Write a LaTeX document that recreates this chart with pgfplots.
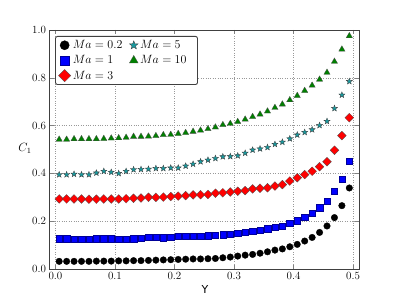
\documentclass[border=0pt]{standalone}
\usepackage{fontspec}
\usepackage{pgfplots}
\usepackage{pgfplotstable}
\pgfplotsset{compat=1.18}
\newfontfamily\dejavu{DejaVu Sans}
\definecolor{cteal}{rgb}{0.1,0.6,0.62}
\definecolor{cgreen}{rgb}{0,0.5,0}
\pgfdeclareplotmark{fstar}{%
  \pgfpathmoveto{\pgfpointpolar{90}{\pgfplotmarksize}}%
  \pgfpathlineto{\pgfpointpolar{126}{0.42\pgfplotmarksize}}%
  \pgfpathlineto{\pgfpointpolar{162}{\pgfplotmarksize}}%
  \pgfpathlineto{\pgfpointpolar{198}{0.42\pgfplotmarksize}}%
  \pgfpathlineto{\pgfpointpolar{234}{\pgfplotmarksize}}%
  \pgfpathlineto{\pgfpointpolar{270}{0.42\pgfplotmarksize}}%
  \pgfpathlineto{\pgfpointpolar{306}{\pgfplotmarksize}}%
  \pgfpathlineto{\pgfpointpolar{342}{0.42\pgfplotmarksize}}%
  \pgfpathlineto{\pgfpointpolar{18}{\pgfplotmarksize}}%
  \pgfpathlineto{\pgfpointpolar{54}{0.42\pgfplotmarksize}}%
  \pgfpathclose
  \pgfusepathqfillstroke}
\pgfplotstableread{
x a b c d e
0.00625 0.032 0.127 0.293 0.395 0.542
0.01875 0.032 0.127 0.293 0.395 0.542
0.03125 0.032 0.126 0.293 0.397 0.544
0.04375 0.032 0.126 0.293 0.395 0.544
0.05625 0.032 0.126 0.292 0.395 0.544
0.06875 0.033 0.127 0.292 0.402 0.544
0.08125 0.033 0.127 0.293 0.409 0.545
0.09375 0.033 0.127 0.293 0.405 0.547
0.10625 0.034 0.126 0.293 0.400 0.548
0.11875 0.034 0.126 0.294 0.409 0.550
0.13125 0.035 0.127 0.296 0.416 0.554
0.14375 0.035 0.130 0.297 0.417 0.554
0.15625 0.036 0.132 0.300 0.418 0.555
0.16875 0.037 0.132 0.300 0.421 0.557
0.18125 0.038 0.131 0.301 0.421 0.561
0.19375 0.039 0.134 0.303 0.423 0.562
0.20625 0.040 0.137 0.305 0.423 0.566
0.21875 0.041 0.137 0.307 0.431 0.570
0.23125 0.042 0.137 0.310 0.439 0.575
0.24375 0.042 0.138 0.311 0.449 0.580
0.25625 0.043 0.140 0.312 0.456 0.586
0.26875 0.044 0.141 0.317 0.463 0.593
0.28125 0.047 0.144 0.319 0.470 0.603
0.29375 0.050 0.146 0.322 0.471 0.608
0.30625 0.054 0.151 0.325 0.474 0.616
0.31875 0.058 0.155 0.328 0.485 0.626
0.33125 0.061 0.159 0.335 0.498 0.637
0.34375 0.066 0.163 0.338 0.503 0.647
0.35625 0.072 0.169 0.340 0.509 0.660
0.36875 0.079 0.174 0.347 0.522 0.675
0.38125 0.084 0.180 0.353 0.531 0.689
0.39375 0.093 0.191 0.368 0.545 0.707
0.40625 0.103 0.202 0.382 0.561 0.725
0.41875 0.117 0.216 0.395 0.572 0.746
0.43125 0.132 0.234 0.409 0.583 0.768
0.44375 0.153 0.257 0.428 0.601 0.793
0.45625 0.180 0.285 0.449 0.618 0.822
0.46875 0.215 0.325 0.497 0.672 0.868
0.48125 0.265 0.375 0.558 0.728 0.919
0.49375 0.339 0.450 0.633 0.785 0.975
}\data
\begin{document}
\begin{tikzpicture}
\path[use as bounding box] (0,0) rectangle (399pt,299pt);
\begin{axis}[
  at={(49.5pt,30pt)}, anchor=south west,
  scale only axis, width=309.5pt, height=239pt,
  xmin=-0.01, xmax=0.51, ymin=0, ymax=1,
  xtick={0,0.1,0.2,0.3,0.4,0.5},
  ytick={0,0.2,0.4,0.6,0.8,1.0},
  xticklabels={0.0,0.1,0.2,0.3,0.4,0.5},
  yticklabels={0.0,0.2,0.4,0.6,0.8,1.0},
  tick label style={font=\fontsize{11}{13}\selectfont},
  tick align=inside, major tick length=4pt,
  xtick pos=both, ytick pos=both,
  axis line style={black!75, line width=0.9pt},
  grid=major,
  major grid style={dotted, gray!80, line width=0.5pt},
  every axis y label/.style={at={(rel axis cs:0,0.506)}, xshift=-24.5pt, anchor=center},
  every axis x label/.style={at={(rel axis cs:0.502,0)}, yshift=-20pt, anchor=center},
  xlabel={\dejavu\fontsize{11}{13}\selectfont Y},
  ylabel={\fontsize{11.5}{13}\selectfont $C_1$},
  legend columns=2,
  legend cell align=left,
  legend style={at={(rel axis cs:0.018,0.975)}, anchor=north west,
    draw=black!75, line width=0.9pt, rounded corners=2pt,
    font=\fontsize{12}{14}\selectfont, inner xsep=3pt, inner ysep=2pt,
    row sep=1.5pt},
  legend image post style={every mark/.append style={scale=1.4}},
]
\addplot[only marks, mark=*, mark size=3.3pt, mark options={fill=black, draw=black, line width=0.3pt}] table[x=x,y=a]{\data};
\addlegendentry{$Ma=0.2$\rule{5pt}{0pt}}
\addplot[only marks, mark=fstar, mark size=3.2pt, mark options={fill=cteal, draw=black!75, line width=0.35pt}] table[x=x,y=d]{\data};
\addlegendentry{$Ma=5$}
\addplot[only marks, mark=square*, mark size=3.2pt, mark options={fill=blue, draw=blue!60!black, line width=0.3pt}] table[x=x,y=b]{\data};
\addlegendentry{$Ma=1$}
\addplot[only marks, mark=triangle*, mark size=3.6pt, mark options={fill=cgreen, draw=black!70, line width=0.3pt}] table[x=x,y=e]{\data};
\addlegendentry{$Ma=10$\rule{6pt}{0pt}}
\addplot[only marks, mark=square*, mark size=3.1pt, mark options={rotate=45, fill=red, draw=black!70, line width=0.3pt}] table[x=x,y=c]{\data};
\addlegendentry{$Ma=3$}
\end{axis}
\end{tikzpicture}
\end{document}
